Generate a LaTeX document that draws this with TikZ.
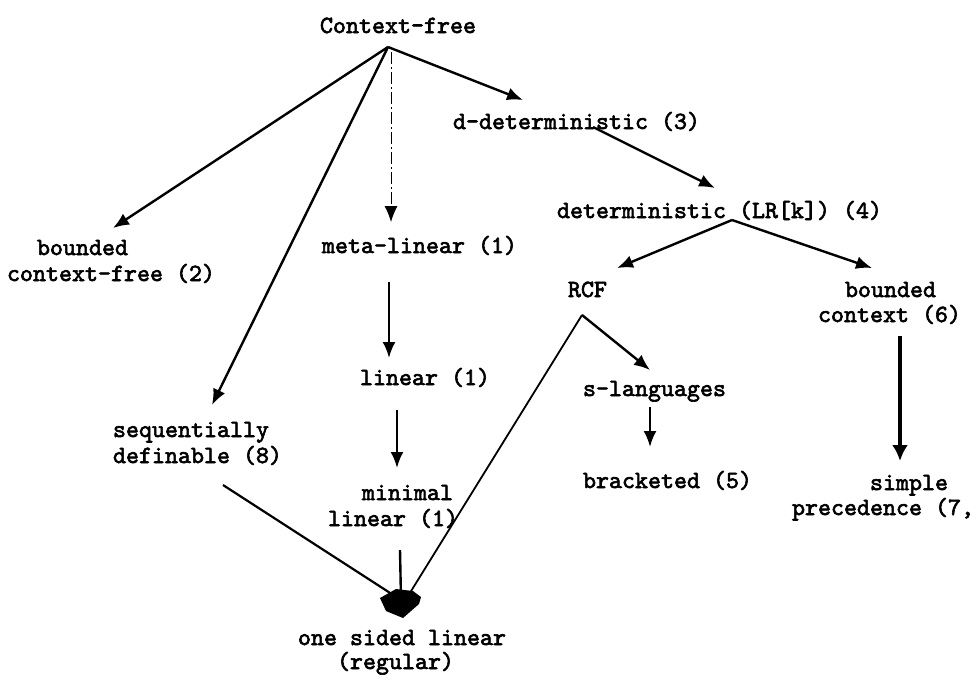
\documentclass[tikz,border=0pt]{standalone}
\usepackage{fontspec}
\newfontfamily\tw{lmmono10-regular.otf}[FakeBold=2.5]
\usetikzlibrary{arrows.meta}
\begin{document}
\begin{tikzpicture}[x=0.5pt,y=-0.5pt,
  lbl/.style={anchor=base west, inner sep=0pt, outer sep=0pt,
    font=\tw\fontsize{12.38pt}{14pt}\selectfont},
  con/.style={line width=1.2pt, -{Latex[length=8pt,width=6.5pt]}},
  thincon/.style={line width=0.5pt, dash pattern=on 6pt off 1.5pt on 1pt off 1.5pt,
    -{Latex[length=8pt,width=6.5pt]}},
  heavycon/.style={line width=1.7pt, -{Latex[length=8pt,width=8pt]}},
  plain/.style={line width=0.9pt}]
\useasboundingbox (0,0) rectangle (978,676);
% labels
\node[lbl] (cf)   at (320,33)  {Context-free};
\node[lbl] (dd)   at (453,129) {d-deterministic (3)};
\node[lbl] (det)  at (557,218) {deterministic (LR[k]) (4)};
\node[lbl] (bcfA) at (37,255)  {bounded};
\node[lbl] (bcfB) at (7,281)   {context-free (2)};
\node[lbl] (ml)   at (322,253) {meta-linear (1)};
\node[lbl] (rcf)  at (568,297) {RCF};
\node[lbl] (bcA)  at (845,297) {bounded};
\node[lbl] (bcB)  at (818,322) {context (6)};
\node[lbl] (lin)  at (360,385) {linear (1)};
\node[lbl] (sl)   at (583,396) {s-languages};
\node[lbl] (seqA) at (113,437) {sequentially};
\node[lbl] (seqB) at (113,463) {definable (8)};
\node[lbl] (minA) at (362,500) {minimal};
\node[lbl] (minB) at (328,526) {linear (1)};
\node[lbl] (br)   at (583,488) {bracketed (5)};
\node[lbl] (simA) at (870,490) {simple};
\node[lbl] (simB) at (792,515) {precedence (7,};
\node[lbl] (osA)  at (298,645) {one sided linear};
\node[lbl] (osB)  at (337,669) {(regular)};
% connector end points
\coordinate (cf-o)   at (388,47);
\coordinate (cf-od)  at (391,52);
\coordinate (dd-i)   at (523,100);
\coordinate (dd-o)   at (593,127);
\coordinate (det-i)  at (715,188);
\coordinate (det-o)  at (732,220);
\coordinate (bcf-i)  at (113,228);
\coordinate (ml-i)   at (391,222);
\coordinate (ml-o)   at (389,282);
\coordinate (rcf-i)  at (617,268);
\coordinate (rcf-o)  at (582,315);
\coordinate (bc-i)   at (872,268);
\coordinate (bc-o)   at (900,336);
\coordinate (lin-i)  at (389,358);
\coordinate (lin-o)  at (397,410);
\coordinate (sl-i)   at (650,370);
\coordinate (sl-o)   at (650,407);
\coordinate (seq-i)  at (212,405);
\coordinate (seq-o)  at (223,485);
\coordinate (min-i)  at (397,468);
\coordinate (min-o)  at (400,550);
\coordinate (br-i)   at (650,447);
\coordinate (sim-i)  at (900,461);
\coordinate (os-i)   at (401,600);
\coordinate (os-ir)  at (408,596);
% connectors
\draw[con] (cf-o) -- (dd-i);
\draw[con] (cf-o) -- (bcf-i);
\draw[con] (cf-o) -- (seq-i);
\draw[thincon] (cf-od) -- (ml-i);
\draw[con] (dd-o) -- (det-i);
\draw[con] (det-o) -- (rcf-i);
\draw[con] (det-o) -- (bc-i);
\draw[con] (rcf-o) -- (sl-i);
\draw[plain] (rcf-o) -- (os-ir);
\draw[con] (ml-o) -- (lin-i);
\draw[con] (lin-o) -- (min-i);
\draw[con] (sl-o) -- (br-i);
\draw[heavycon] (bc-o) -- (sim-i);
\draw[line width=1.1pt] (seq-o) -- (os-i);
\draw[line width=1.2pt] (min-o) -- (os-i);
% merged arrow head
\fill (380,598) -- (396,589) -- (413,591) -- (421,597) -- (419,604) -- (403,618) -- (386,611) -- cycle;
\end{tikzpicture}
\end{document}
